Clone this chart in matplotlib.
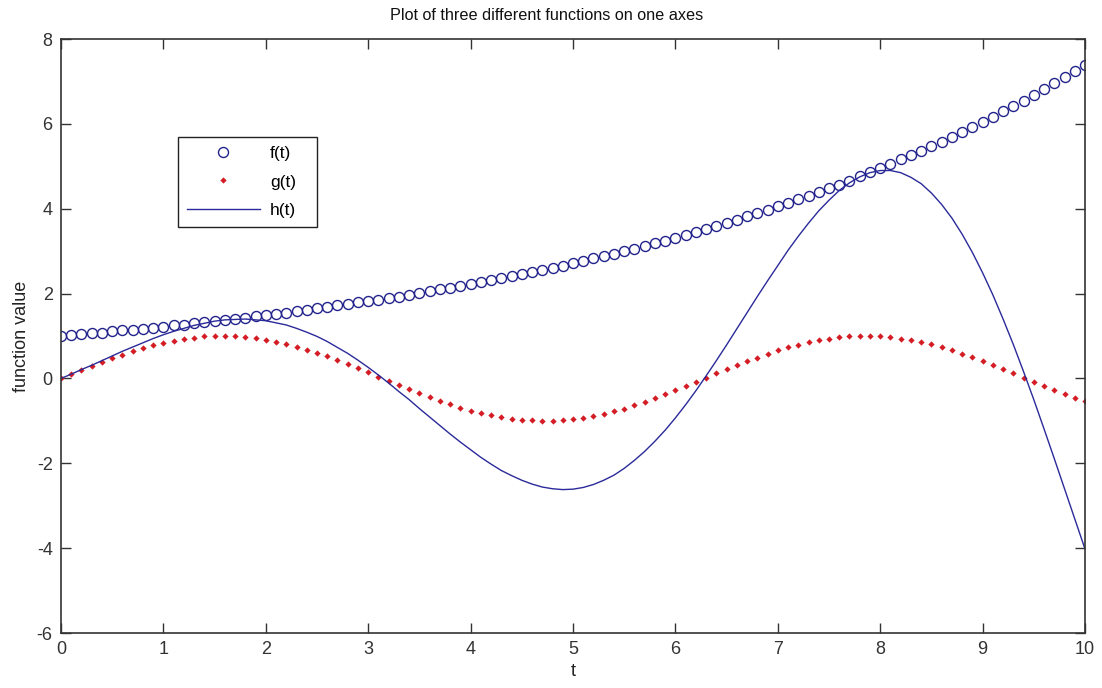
import numpy as np
import matplotlib
matplotlib.use('Agg')
from matplotlib import pyplot as plt

plt.rcParams['font.family'] = ['Liberation Sans', 'DejaVu Sans']
plt.rcParams['axes.unicode_minus'] = False

########################## data ##########################
t = np.linspace(0, 10, 101)

f = [1.00, 1.02, 1.04, 1.06, 1.08, 1.11, 1.13, 1.15, 1.17, 1.20,
     1.22, 1.25, 1.27, 1.30, 1.32, 1.35, 1.38, 1.40, 1.43, 1.46,
     1.49, 1.52, 1.55, 1.58, 1.62, 1.65, 1.68, 1.72, 1.75, 1.79,
     1.82, 1.86, 1.90, 1.93, 1.97, 2.01, 2.05, 2.10, 2.14, 2.18,
     2.23, 2.27, 2.32, 2.36, 2.41, 2.46, 2.51, 2.56, 2.61, 2.66,
     2.72, 2.77, 2.83, 2.89, 2.94, 3.00, 3.06, 3.13, 3.19, 3.25,
     3.32, 3.39, 3.46, 3.53, 3.60, 3.67, 3.74, 3.82, 3.90, 3.97,
     4.06, 4.14, 4.22, 4.31, 4.39, 4.48, 4.57, 4.66, 4.76, 4.86,
     4.95, 5.05, 5.16, 5.26, 5.37, 5.47, 5.58, 5.70, 5.81, 5.93,
     6.05, 6.17, 6.30, 6.42, 6.55, 6.69, 6.82, 6.96, 7.10, 7.24,
     7.39]

g = [0.00, 0.10, 0.20, 0.30, 0.39, 0.48, 0.56, 0.64, 0.72, 0.78,
     0.84, 0.89, 0.93, 0.96, 0.99, 1.00, 1.00, 0.99, 0.97, 0.95,
     0.91, 0.86, 0.81, 0.75, 0.68, 0.60, 0.52, 0.43, 0.34, 0.24,
     0.14, 0.04, -0.06, -0.16, -0.26, -0.35, -0.44, -0.53, -0.61, -0.69,
     -0.76, -0.82, -0.87, -0.92, -0.95, -0.98, -0.99, -1.00, -1.00, -0.98,
     -0.96, -0.93, -0.88, -0.83, -0.77, -0.71, -0.63, -0.55, -0.46, -0.37,
     -0.28, -0.18, -0.08, 0.02, 0.12, 0.22, 0.31, 0.40, 0.49, 0.58,
     0.66, 0.73, 0.79, 0.85, 0.90, 0.94, 0.97, 0.99, 1.00, 1.00,
     0.99, 0.97, 0.94, 0.90, 0.85, 0.80, 0.73, 0.66, 0.58, 0.50,
     0.41, 0.32, 0.22, 0.12, 0.02, -0.08, -0.17, -0.27, -0.37, -0.46,
     -0.54]

h = [0.00, 0.10, 0.21, 0.31, 0.42, 0.53, 0.64, 0.74, 0.84, 0.94,
     1.03, 1.11, 1.18, 1.25, 1.30, 1.35, 1.38, 1.39, 1.40, 1.38,
     1.36, 1.31, 1.26, 1.18, 1.09, 0.99, 0.87, 0.73, 0.59, 0.43,
     0.26, 0.08, -0.11, -0.31, -0.50, -0.71, -0.91, -1.11, -1.31, -1.50,
     -1.68, -1.86, -2.02, -2.17, -2.29, -2.40, -2.49, -2.56, -2.60, -2.62,
     -2.61, -2.57, -2.50, -2.40, -2.28, -2.12, -1.93, -1.72, -1.48, -1.22,
     -0.93, -0.62, -0.29, 0.06, 0.42, 0.79, 1.17, 1.55, 1.93, 2.30,
     2.66, 3.02, 3.35, 3.66, 3.95, 4.20, 4.43, 4.61, 4.75, 4.85,
     4.90, 4.90, 4.85, 4.74, 4.59, 4.37, 4.10, 3.78, 3.40, 2.97,
     2.49, 1.97, 1.40, 0.80, 0.16, -0.50, -1.19, -1.89, -2.60, -3.31,
     -4.02]

xticks = [0, 1, 2, 3, 4, 5, 6, 7, 8, 9, 10]
yticks = [-6, -4, -2, 0, 2, 4, 6, 8]

########################## plot ##########################
fig = plt.figure(figsize=(11.02, 6.88), dpi=100)
ax = fig.add_axes([61/1102, 1-633/688, (1085-61)/1102, (633-39)/688])

blue = '#22228c'
ax.plot(t, f, linestyle='none', marker='o', markersize=7.2, markerfacecolor='none',
        markeredgecolor=blue, markeredgewidth=1.0, label='f(t)')
ax.plot(t, g, linestyle='none', marker='D', markersize=3.2, color='#d41c24',
        markeredgewidth=0, label='g(t)')
ax.plot(t, h, color='#2a2a9a', linewidth=1.0, label='h(t)')

ax.set_xlim(0, 10)
ax.set_ylim(-6, 8)
ax.set_xticks(xticks)
ax.set_yticks(yticks)
ax.tick_params(direction='in', length=7, width=1, top=True, right=True,
               labelsize=13, colors='#333333', pad=6)
for s in ax.spines.values():
    s.set_linewidth(1.2)
    s.set_color('#333333')

fig.text(547/1102, 1-16/688, 'Plot of three different functions on one axes',
         fontsize=11.7, ha='center', va='center', color='#111111')
ax.set_xlabel('t', fontsize=13, labelpad=3, color='#222222')
ax.set_ylabel('function value', fontsize=13, labelpad=5, color='#222222')

leg = ax.legend(loc='upper left', bbox_to_anchor=(0.1143, 0.687, 0.1357, 0.148), mode='expand',
                fancybox=False, framealpha=1, edgecolor='#222222', fontsize=12.5,
                borderpad=0.5, labelspacing=0.78, handlelength=4.2, handletextpad=0.6,
                borderaxespad=0)
leg.get_frame().set_linewidth(1.0)

plt.savefig('out.png', dpi=100)
